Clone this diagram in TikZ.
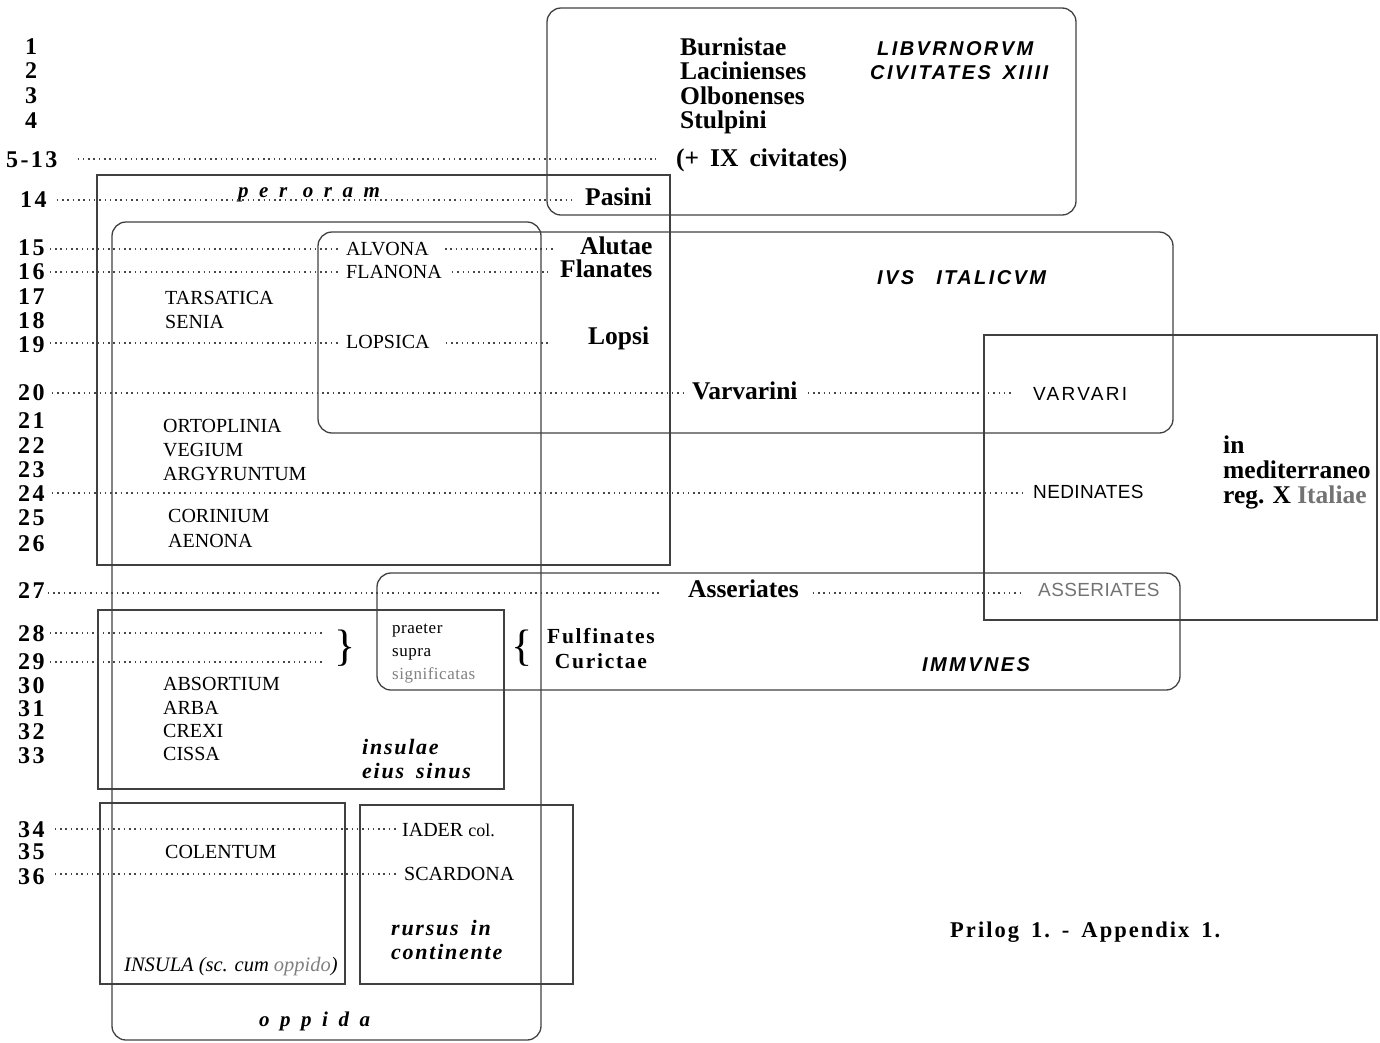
\documentclass[tikz,border=0pt]{standalone}
\usepackage{fontspec}
\setmainfont{Liberation Serif}
\setsansfont{Liberation Sans}
\newfontfamily\numf[LetterSpace=10]{Liberation Serif}
\newfontfamily\sbif[LetterSpace=12]{Liberation Sans}
\newfontfamily\wideif[LetterSpace=50]{Liberation Serif}
\newfontfamily\midif[LetterSpace=8]{Liberation Serif}
\newfontfamily\fulf[LetterSpace=8]{Liberation Serif}
\newfontfamily\prilf[LetterSpace=9]{Liberation Serif}
\newfontfamily\sansf[LetterSpace=2]{Liberation Sans}
\newfontfamily\widesansf[LetterSpace=12]{Liberation Sans}
\newfontfamily\smallf[LetterSpace=3]{Liberation Serif}
\begin{document}
\begin{tikzpicture}[x=1pt,y=-1pt,
  every node/.style={inner sep=0pt, anchor=base west},
  box/.style={draw=black!75, line width=1.3pt},
  rbox/.style={box, rounded corners=14pt},
  dots/.style={draw=black!72, line width=1.5pt, dash pattern=on 1.5pt off 3.8pt},
  num/.style={font=\numf\bfseries\fontsize{24}{24}\selectfont},
  bser/.style={font=\bfseries\fontsize{25.5}{25.5}\selectfont},
  place/.style={font=\fontsize{20}{20}\selectfont},
  sansc/.style={font=\sansf\fontsize{19}{19}\selectfont},
  sbi/.style={font=\sbif\bfseries\itshape\fontsize{20}{20}\selectfont},
  wide/.style={font=\wideif\bfseries\itshape\fontsize{21}{21}\selectfont},
  midit/.style={font=\midif\bfseries\itshape\fontsize{22}{22}\selectfont},
  smalls/.style={font=\smallf\fontsize{17}{17}\selectfont},
  fulfs/.style={font=\fulf\bfseries\fontsize{21.5}{25.5}\selectfont},
  brace/.style={anchor=center, font=\fontsize{44}{44}\selectfont}
]
\useasboundingbox (0,0) rectangle (1380,1042);
% ---------- boxes ----------
\draw[rbox] (547,8) rectangle (1076,215);
\draw[box] (97,175) rectangle (670,565);
\draw[rbox] (112,222) rectangle (541,1040);
\draw[rbox] (318,232) rectangle (1173,433);
\draw[box] (984,335) rectangle (1377,620);
\draw[rbox] (377,573) rectangle (1180,690);
\draw[box] (98,610) rectangle (504,789);
\draw[box] (100,803) rectangle (345,984);
\draw[box] (360,805) rectangle (573,984);
% ---------- numbers ----------
\node[num] (n1) at (25,54) {1};
\node[num] (n2) at (25,78) {2};
\node[num] (n3) at (25,103) {3};
\node[num] (n4) at (25,128) {4};
\node[num] (n513) at (6,167) {5-13};
\node[num] (n14) at (20,207) {14};
\node[num] (n15) at (18,255) {15};
\node[num] (n16) at (18,279) {16};
\node[num] (n17) at (18,304) {17};
\node[num] (n18) at (18,328) {18};
\node[num] (n19) at (18,352) {19};
\node[num] (n20) at (18,400) {20};
\node[num] (n21) at (18,428) {21};
\node[num] (n22) at (18,453) {22};
\node[num] (n23) at (18,477) {23};
\node[num] (n24) at (18,501) {24};
\node[num] (n25) at (18,525) {25};
\node[num] (n26) at (18,551) {26};
\node[num] (n27) at (18,598) {27};
\node[num] (n28) at (18,641) {28};
\node[num] (n29) at (18,669) {29};
\node[num] (n30) at (18,693) {30};
\node[num] (n31) at (18,716) {31};
\node[num] (n32) at (18,739) {32};
\node[num] (n33) at (18,763) {33};
\node[num] (n34) at (18,837) {34};
\node[num] (n35) at (18,859) {35};
\node[num] (n36) at (18,884) {36};
% ---------- Liburnorum box ----------
\node[bser] (burn) at (680,55) {Burnistae};
\node[bser] (laci) at (680,79) {Lacinienses};
\node[bser] (olbo) at (680,104) {Olbonenses};
\node[bser] (stul) at (680,128) {Stulpini};
\node[bser] (civ) at (676,166) {(+\hspace{11pt}IX\hspace{11pt}civitates)};
\node[sbi] (libv) at (877,55) {LIBVRNORVM};
\node[sbi] (civx) at (870,79) {CIVITATES\hspace{12pt}XIIII};
\node[bser] (pasi) at (585,205) {Pasini};
\node[wide] (oram) at (238,197) {per oram};
% ---------- upper block ----------
\node[place] (alvo) at (346,255) {ALVONA};
\node[place] (flan) at (346,278) {FLANONA};
\node[bser] (alut) at (580,254) {Alutae};
\node[bser] (flnt) at (560,277) {Flanates};
\node[place] (tars) at (165,304) {TARSATICA};
\node[place] (seni) at (165,328) {SENIA};
\node[place] (lops) at (346,348) {LOPSICA};
\node[bser] (lopi) at (588,344) {Lopsi};
\node[sbi] (ius) at (877,284) {IVS\hspace{22pt}ITALICVM};
\node[bser] (varv) at (692,399) {Varvarini};
\node[sansc, font=\widesansf\fontsize{19}{19}\selectfont] (vari) at (1033,400) {VARVARI};
\node[place] (orto) at (163,432) {ORTOPLINIA};
\node[place] (vegi) at (163,456) {VEGIUM};
\node[place] (argy) at (163,480) {ARGYRUNTUM};
\node[place] (cori) at (168,522) {CORINIUM};
\node[place] (aeno) at (168,547) {AENONA};
\node[sansc] (nedi) at (1033,498) {NEDINATES};
\node[bser] (inm) at (1223,453) {in};
\node[bser] (medi) at (1223,478) {mediterraneo};
\node[bser] (regx) at (1223,503) {reg.\hspace{8pt}X {\color{black!55}Italiae}};
% ---------- immunes ----------
\node[bser] (asse) at (688,597) {Asseriates};
\node[sansc, text=black!55] (assi) at (1038,596) {ASSERIATES};
\node[smalls] (prae) at (392,633) {praeter};
\node[smalls] (supr) at (392,656) {supra};
\node[smalls, text=black!50] (sign) at (392,679) {significatas};
\node[brace] (rbr) at (345,648) {\}};
\node[brace] (lbr) at (522,648) {\{};
\node[fulfs, anchor=north west, align=center] (fulf) at (547,628) {Fulfinates\\Curictae};
\node[sbi] (immv) at (922,671) {IMMVNES};
% ---------- insulae ----------
\node[place] (abso) at (163,690) {ABSORTIUM};
\node[place] (arba) at (163,714) {ARBA};
\node[place] (crex) at (163,737) {CREXI};
\node[place] (ciss) at (163,760) {CISSA};
\node[midit] (insu) at (362,754) {insulae};
\node[midit] (eius) at (362,778) {eius\hspace{12pt}sinus};
% ---------- bottom ----------
\node[place] (iade) at (402,836) {IADER {\fontsize{18}{18}\selectfont col.}};
\node[place] (cole) at (165,858) {COLENTUM};
\node[place] (scar) at (404,880) {SCARDONA};
\node[midit] (rurs) at (391,935) {rursus\hspace{12pt}in};
\node[midit] (cont) at (391,959) {continente};
\node[font=\itshape\fontsize{20.5}{20.5}\selectfont] (insl) at (124,971) {INSULA (sc. cum {\color{black!50}oppido})};
\node[wide] (oppi) at (259,1026) {oppida};
\node[font=\prilf\bfseries\fontsize{22.5}{22.5}\selectfont] (pril) at (950,937) {Prilog\hspace{12pt}1.\hspace{12pt}-\hspace{12pt}Appendix\hspace{12pt}1.};
% ---------- dotted leaders ----------
\coordinate (y513) at (0,159);
\coordinate (y14) at (0,200);
\coordinate (y15) at (0,249);
\coordinate (y16) at (0,272);
\coordinate (y19) at (0,343);
\coordinate (y20) at (0,393);
\coordinate (y24) at (0,493);
\coordinate (y27) at (0,593);
\coordinate (y28) at (0,633);
\coordinate (y29) at (0,662);
\coordinate (y34) at (0,829);
\coordinate (y36) at (0,874);
\draw[dots, shorten <=20pt, shorten >=20pt] (n513.east |- y513) -- (civ.west |- y513);
\draw[dots, shorten <=10pt, shorten >=14pt] (n14.east |- y14) -- (pasi.west |- y14);
\draw[dots, shorten <=5pt, shorten >=8pt] (n15.east |- y15) -- (alvo.west |- y15);
\draw[dots, shorten <=16pt, shorten >=24pt] (alvo.east |- y15) -- (alut.west |- y15);
\draw[dots, shorten <=5pt, shorten >=8pt] (n16.east |- y16) -- (flan.west |- y16);
\draw[dots, shorten <=10pt, shorten >=12pt] (flan.east |- y16) -- (flnt.west |- y16);
\draw[dots, shorten <=5pt, shorten >=8pt] (n19.east |- y19) -- (lops.west |- y19);
\draw[dots, shorten <=16pt, shorten >=38pt] (lops.east |- y19) -- (lopi.west |- y19);
\draw[dots, shorten <=7pt, shorten >=9pt] (n20.east |- y20) -- (varv.west |- y20);
\draw[dots, shorten <=10pt, shorten >=22pt] (varv.east |- y20) -- (vari.west |- y20);
\draw[dots, shorten <=7pt, shorten >=11pt] (n24.east |- y24) -- (nedi.west |- y24);
\draw[dots, shorten <=3pt, shorten >=28pt] (n27.east |- y27) -- (asse.west |- y27);
\draw[dots, shorten <=14pt, shorten >=16pt] (asse.east |- y27) -- (assi.west |- y27);
\draw[dots, shorten <=5pt, shorten >=10pt] (n28.east |- y28) -- (rbr.west |- y28);
\draw[dots, shorten <=5pt, shorten >=10pt] (n29.east |- y29) -- (rbr.west |- y29);
\draw[dots, shorten <=10pt, shorten >=5pt] (n34.east |- y34) -- (iade.west |- y34);
\draw[dots, shorten <=10pt, shorten >=7pt] (n36.east |- y36) -- (scar.west |- y36);
\end{tikzpicture}
\end{document}
